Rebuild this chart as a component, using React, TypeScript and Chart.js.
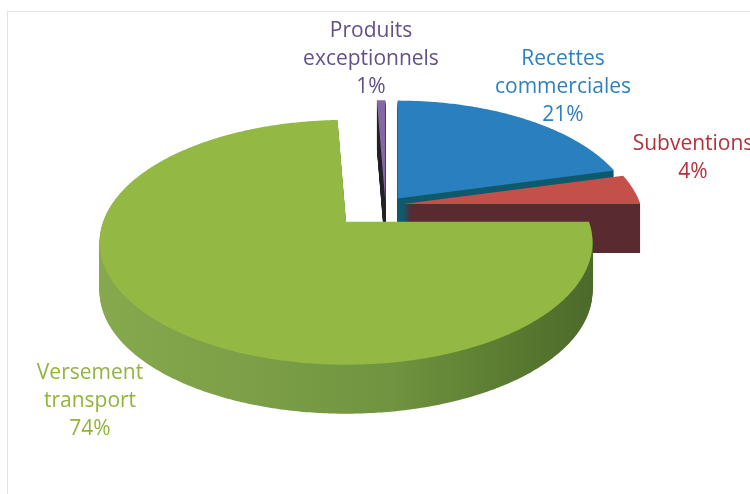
import React, { useEffect, useRef } from "react";
import { Chart, registerables } from "chart.js";

Chart.register(...registerables);

const categories = ["Recettes commerciales", "Subventions", "Versement transport", "Produits exceptionnels"];
const shares = [20.9, 4.1, 74.35, 0.65];
const explode = [20, 18, 57, 7];
const reach = [0.96, 0.975, 1, 1];
const faceColors = ["#2a80bf", "#c4504a", "#93b944", "#8468a6"];
const sideColors = ["#0f5a6c", "#5a2a31", "#6f9444", "#20202a"];
const labelColors = ["#2f80bd", "#b5303c", "#92b43c", "#62508a"];

const labelLines = [
  ["Recettes", "commerciales"],
  ["Subventions"],
  ["Versement", "transport"],
  ["Produits", "exceptionnels"],
];
const labelAnchors = [
  { x: 563, y: 59 },
  { x: 693, y: 144 },
  { x: 90, y: 373 },
  { x: 371, y: 31 },
];

const CX = 385.5;
const CY = 205;
const K = 0.167;
const RX = 243;
const RY = 119;
const DEPTH = 49;
const FLAT = 0.41;
const LINE = 28;

function project(theta: number, scale: number) {
  const u = Math.cos(theta);
  const v = Math.sin(theta);
  const w = 1 - K * v;
  return { x: (scale * RX * u) / w, y: (scale * RY * v) / w };
}

function sector(ctx: CanvasRenderingContext2D, a0: number, a1: number, ox: number, oy: number, scale: number) {
  ctx.beginPath();
  ctx.moveTo(ox, oy);
  const n = Math.max(2, Math.ceil((a1 - a0) / 0.01));
  for (let i = 0; i <= n; i++) {
    const p = project(a0 + ((a1 - a0) * i) / n, scale);
    ctx.lineTo(ox + p.x, oy + p.y);
  }
  ctx.closePath();
}

const pie3d = {
  id: "pie3d",
  beforeDatasetsDraw(chart: any) {
    const ctx: CanvasRenderingContext2D = chart.ctx;
    const arcs = chart.getDatasetMeta(0).data;
    // painter's order: back slice first, the large slice last
    [3, 0, 1, 2].forEach((i) => {
      const arc = arcs[i];
      const { startAngle, endAngle } = arc.getProps(["startAngle", "endAngle"], true);
      const mid = (startAngle + endAngle) / 2;
      const off = arc.options.offset;
      const ox = CX + off * Math.cos(mid);
      const oy = CY + off * FLAT * Math.sin(mid);
      let side: any = sideColors[i];
      if (i === 2) {
        const g = ctx.createLinearGradient(100, 0, 592, 0);
        g.addColorStop(0, "#86a94e");
        g.addColorStop(0.3, "#7c9f47");
        g.addColorStop(0.6, "#6f9340");
        g.addColorStop(0.85, "#58792f");
        g.addColorStop(1, "#4c6a2b");
        side = g;
      }
      ctx.fillStyle = side;
      for (let d = DEPTH; d > 0; d--) {
        sector(ctx, startAngle, endAngle, ox, oy + d, reach[i]);
        ctx.fill();
      }
      ctx.fillStyle = faceColors[i];
      sector(ctx, startAngle, endAngle, ox, oy, reach[i]);
      ctx.fill();
    });
    return false;
  },
  afterDraw(chart: any) {
    const ctx: CanvasRenderingContext2D = chart.ctx;
    ctx.save();
    ctx.font = "500 21px 'Open Sans'";
    ctx.textAlign = "center";
    ctx.textBaseline = "middle";
    shares.forEach((s, i) => {
      ctx.fillStyle = labelColors[i];
      const lines = [...labelLines[i], `${Math.round(s)}%`];
      lines.forEach((t, j) => ctx.fillText(t, labelAnchors[i].x, labelAnchors[i].y + j * LINE));
    });
    ctx.restore();
  },
};

export default function App() {
  const ref = useRef<HTMLCanvasElement>(null);
  useEffect(() => {
    const chart = new Chart(ref.current!, {
      type: "pie",
      data: {
        labels: categories,
        datasets: [{ data: shares, backgroundColor: faceColors, offset: explode, borderWidth: 0 }],
      },
      options: {
        animation: false,
        responsive: false,
        plugins: { legend: { display: false }, tooltip: { enabled: false } },
      },
      plugins: [pie3d],
    } as any);
    return () => chart.destroy();
  }, []);
  return (
    <div style={{ position: "fixed", left: 0, top: 0, width: 750, height: 494, background: "#fff", overflow: "hidden" }}>
      <div style={{ position: "absolute", left: 7, top: 11, right: -2, bottom: -2, border: "1px solid #e2e2e2" }} />
      <canvas ref={ref} width={750} height={494} style={{ position: "absolute", left: 0, top: 0, display: "block" }} />
    </div>
  );
}
